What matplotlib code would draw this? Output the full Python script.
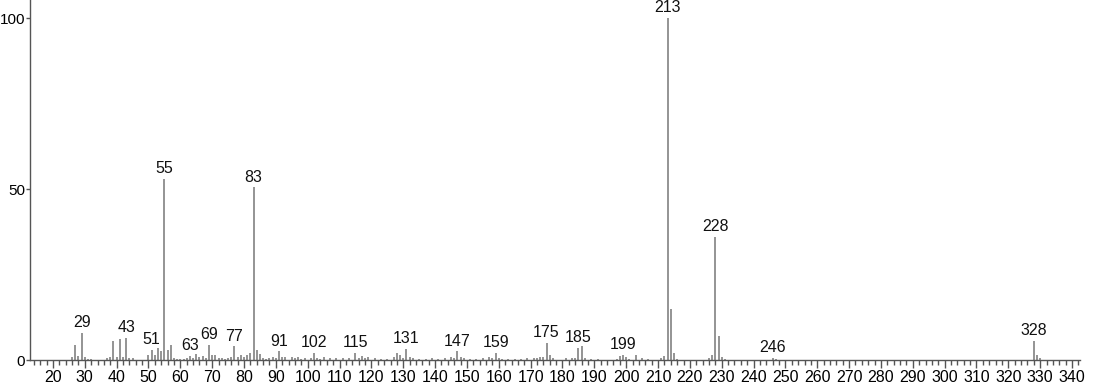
import matplotlib.pyplot as plt
import numpy as np
from matplotlib.ticker import MultipleLocator

plt.rcParams['font.family'] = ['Liberation Sans', 'DejaVu Sans']

# m/z and relative intensity (%)
mz = [26, 27, 28, 29, 30, 31, 32, 37, 38, 39, 40, 41, 42, 43, 44, 45,
      50, 51, 52, 53, 54, 55, 56, 57, 58, 59, 60, 61, 62, 63, 64, 65, 66, 67,
      68, 69, 70, 71, 72, 73, 74, 75, 76, 77, 78, 79, 80, 81, 82, 83, 84, 85,
      86, 87, 88, 89, 90, 91, 92, 93, 95, 96, 97, 98, 99, 101, 102, 103, 104,
      105, 107, 109, 111, 113, 115, 116, 117, 118, 119, 121, 123, 125, 127,
      128, 129, 130, 131, 132, 133, 135, 137, 139, 141, 143, 145, 146, 147,
      148, 149, 151, 153, 155, 157, 158, 159, 160, 161, 163, 165, 167, 169,
      171, 172, 173, 174, 175, 176, 177, 181, 183, 184, 185, 186, 187, 189,
      191, 197, 198, 199, 200, 201, 203, 205, 207, 211, 212, 213, 214, 215,
      216, 226, 227, 228, 229, 230, 231, 246, 247, 328, 329, 330]
intensity = [0.8, 4.5, 1.2, 8.0, 0.8, 0.4, 0.3, 0.5, 1.0, 5.5, 1.0,
             6.0, 1.0, 6.5, 0.6, 0.5,
             1.5, 3.0, 1.5, 3.5, 2.5, 53.0, 3.0, 4.5, 0.6, 0.4, 0.3, 0.4, 0.5,
             1.3, 0.7, 1.8, 0.8, 1.3,
             0.6, 4.5, 1.5, 1.5, 0.5, 0.6, 0.4, 0.6, 1.0, 4.0, 1.0, 1.5, 0.8,
             1.5, 2.0, 50.5, 3.0, 1.8,
             0.5, 0.4, 0.5, 1.0, 0.7, 2.5, 1.0, 0.8, 0.8, 0.6, 0.8, 0.4, 0.5,
             0.5, 2.0, 0.7, 0.4,
             0.8, 0.5, 0.6, 0.5, 0.6, 2.0, 0.5, 1.2, 0.5, 0.8, 0.5, 0.4, 0.4,
             0.8,
             2.0, 1.5, 0.5, 3.2, 0.8, 0.5, 0.4, 0.4, 0.5, 0.4, 0.5, 0.8, 0.6,
             2.5,
             1.0, 0.5, 0.4, 0.4, 0.5, 1.0, 0.6, 2.0, 0.6, 0.4, 0.4, 0.4, 0.4,
             0.5,
             0.5, 0.5, 0.8, 0.8, 5.0, 1.5, 0.5, 0.5, 0.6, 0.7, 3.5, 4.0, 0.6,
             0.4,
             0.4, 0.4, 1.2, 1.5, 0.8, 0.4, 1.5, 0.5, 0.4, 0.6, 1.2, 100.0, 15.0,
             2.0,
             0.4, 0.5, 1.5, 36.0, 7.0, 1.0, 0.4, 0.6, 0.3, 5.5, 1.5, 0.5]

labeled = [29, 43, 51, 55, 63, 69, 77, 83, 91, 102, 115, 131, 147, 159, 175,
           185, 199, 213, 228, 246, 328]

fig = plt.figure(figsize=(10.94, 3.84), dpi=100)
ax = fig.add_axes([30 / 1094, 24 / 384, 1050 / 1094, 360 / 384])

ax.vlines(mz, 0, intensity, color='#777777', linewidth=1.1)

for m in labeled:
    h = intensity[mz.index(m)]
    ax.annotate(str(m), (m, h), xytext=(0, 2), textcoords='offset points',
                ha='center', va='bottom', fontsize=11.5, color='#111111')

ax.set_xlim(12.8, 342.5)
ax.set_ylim(0, 105.3)
ax.xaxis.set_major_locator(MultipleLocator(10))
ax.xaxis.set_minor_locator(MultipleLocator(2))
ax.set_yticks([0, 50, 100])

for s in ['top', 'right']:
    ax.spines[s].set_visible(False)
for s in ['left', 'bottom']:
    ax.spines[s].set_color('#555555')
    ax.spines[s].set_linewidth(1.0)

ax.tick_params(axis='x', which='major', length=6, width=1.0, color='#555555',
               labelsize=11.5, pad=1)
ax.tick_params(axis='x', which='minor', length=3.5, width=1.0, color='#555555')
ax.tick_params(axis='y', length=3, width=1.0, color='#555555', labelsize=11,
               pad=0.5)

plt.savefig('out.png', dpi=100)
